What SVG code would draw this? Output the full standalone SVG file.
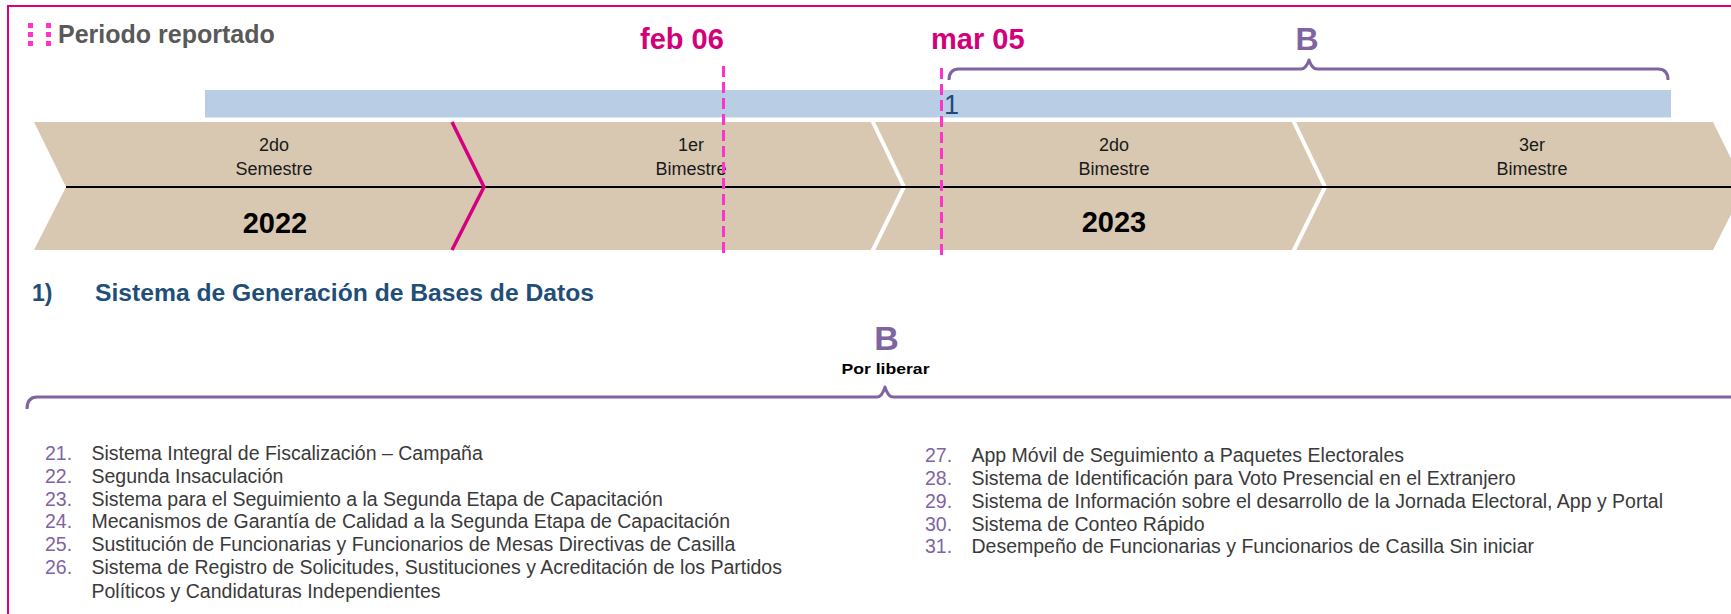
<svg xmlns="http://www.w3.org/2000/svg" width="1731" height="614" viewBox="0 0 1731 614">
<style>
.hdr{font-family:"Liberation Sans",Arial,sans-serif;font-weight:bold;font-size:25px;fill:#595959}
.date{font-family:"Liberation Sans",Arial,sans-serif;font-weight:bold;font-size:29px;fill:#D4007A}
.bl{font-family:"Liberation Sans",Arial,sans-serif;font-weight:bold;fill:#8064A2;text-anchor:middle}
.ch{font-family:"Liberation Sans",Arial,sans-serif;font-size:18px;fill:#1a1a1a;text-anchor:middle}
.yr{font-family:"Liberation Sans",Arial,sans-serif;font-weight:bold;font-size:29px;fill:#000;text-anchor:middle}
.sec{font-family:"Liberation Sans",Arial,sans-serif;font-weight:bold;font-size:23px;fill:#1F4E79}
.num{font-family:"Liberation Sans",Arial,sans-serif;font-size:19.5px;fill:#8064A2}
.it{font-family:"Liberation Sans",Arial,sans-serif;font-size:19.5px;fill:#3a3a3a}
.dash{stroke:#FF33CC;stroke-width:3;stroke-dasharray:11,5;fill:none}
.brace{stroke:#8064A2;stroke-width:3;fill:none;stroke-linejoin:round}
.dot{fill:#FF33CC}
</style>
<rect width="1731" height="614" fill="#fff"/>
<path d="M8,614 V6 H1731" fill="none" stroke="#E0007A" stroke-width="2"/>
<g id="header">
<rect class="dot" x="28" y="23" width="5" height="5"/>
<rect class="dot" x="28" y="32" width="5" height="5"/>
<rect class="dot" x="28" y="41" width="5" height="5"/>
<rect class="dot" x="46" y="23" width="5" height="5"/>
<rect class="dot" x="46" y="32" width="5" height="5"/>
<rect class="dot" x="46" y="41" width="5" height="5"/>
<text class="hdr" x="58" y="43">Periodo reportado</text>
</g>
<g id="period-bar">
<rect x="205" y="90" width="1466" height="27.5" fill="#B9CDE5"/>
<text x="944" y="114" font-family="Liberation Sans, Arial, sans-serif" font-size="27" fill="#1F497D">1</text>
</g>
<g id="timeline">
<polygon points="34,122 1713,122 1745,187 1713,250 34,250 66,187" fill="#D8C8B1"/>
<polyline points="872,120 904,187 872,252" fill="none" stroke="#fff" stroke-width="4"/>
<polyline points="1293,120 1325,187 1293,252" fill="none" stroke="#fff" stroke-width="4"/>
<line x1="66" y1="187" x2="1731" y2="187" stroke="#000" stroke-width="2"/>
<polyline points="452,122 484,187 452,250" fill="none" stroke="#D5007F" stroke-width="3.5"/>
</g>
<g id="seg-2022">
<text class="ch" x="274" y="151">2do</text>
<text class="ch" x="274" y="174.5">Semestre</text>
<text class="yr" x="275" y="233">2022</text>
</g>
<g id="seg-1bim">
<text class="ch" x="691" y="151">1er</text>
<text class="ch" x="691" y="174.5">Bimestre</text>
</g>
<g id="seg-2bim">
<text class="ch" x="1114" y="151">2do</text>
<text class="ch" x="1114" y="174.5">Bimestre</text>
<text class="yr" x="1114" y="232">2023</text>
</g>
<g id="seg-3bim">
<text class="ch" x="1532" y="151">3er</text>
<text class="ch" x="1532" y="174.5">Bimestre</text>
</g>
<g id="markers">
<text class="date" x="640" y="49">feb 06</text>
<line class="dash" x1="723.5" y1="66" x2="723.5" y2="258"/>
<text class="date" x="931" y="49">mar 05</text>
<line class="dash" x1="941.5" y1="68" x2="941.5" y2="260"/>
</g>
<g id="brace-top">
<path class="brace" d="M949,80 Q949,69 959,69 H1301 Q1306,69 1309,60 Q1312,69 1317,69 H1658 Q1668,69 1668,80"/>
<text class="bl" x="1307" y="50" font-size="32">B</text>
</g>
<g id="section">
<text class="sec" x="32" y="301">1)</text>
<text class="sec" x="95" y="301" textLength="499" lengthAdjust="spacingAndGlyphs">Sistema de Generación de Bases de Datos</text>
</g>
<g id="brace-bottom">
<text class="bl" x="886.5" y="350" font-size="34">B</text>
<text x="885.5" y="374" font-family="Liberation Sans, Arial, sans-serif" font-weight="bold" font-size="15" fill="#000" text-anchor="middle" textLength="88" lengthAdjust="spacingAndGlyphs">Por liberar</text>
<path class="brace" d="M27,409 Q27,397 37,397 H877 Q882,397 885,387 Q888,397 893,397 H1731"/>
</g>
<g id="list-left">
<text class="num" x="45" y="460">21.</text><text class="it" x="91.5" y="460">Sistema Integral de Fiscalización – Campaña</text>
<text class="num" x="45" y="483">22.</text><text class="it" x="91.5" y="483">Segunda Insaculación</text>
<text class="num" x="45" y="505.5">23.</text><text class="it" x="91.5" y="505.5">Sistema para el Seguimiento a la Segunda Etapa de Capacitación</text>
<text class="num" x="45" y="528">24.</text><text class="it" x="91.5" y="528">Mecanismos de Garantía de Calidad a la Segunda Etapa de Capacitación</text>
<text class="num" x="45" y="551">25.</text><text class="it" x="91.5" y="551">Sustitución de Funcionarias y Funcionarios de Mesas Directivas de Casilla</text>
<text class="num" x="45" y="574">26.</text><text class="it" x="91.5" y="574">Sistema de Registro de Solicitudes, Sustituciones y Acreditación de los Partidos</text>
<text class="it" x="91.5" y="598">Políticos y Candidaturas Independientes</text>
</g>
<g id="list-right">
<text class="num" x="925" y="462">27.</text><text class="it" x="971.5" y="462">App Móvil de Seguimiento a Paquetes Electorales</text>
<text class="num" x="925" y="485">28.</text><text class="it" x="971.5" y="485">Sistema de Identificación para Voto Presencial en el Extranjero</text>
<text class="num" x="925" y="507.5">29.</text><text class="it" x="971.5" y="507.5">Sistema de Información sobre el desarrollo de la Jornada Electoral, App y Portal</text>
<text class="num" x="925" y="530.5">30.</text><text class="it" x="971.5" y="530.5">Sistema de Conteo Rápido</text>
<text class="num" x="925" y="553">31.</text><text class="it" x="971.5" y="553">Desempeño de Funcionarias y Funcionarios de Casilla Sin iniciar</text>
</g>
</svg>
